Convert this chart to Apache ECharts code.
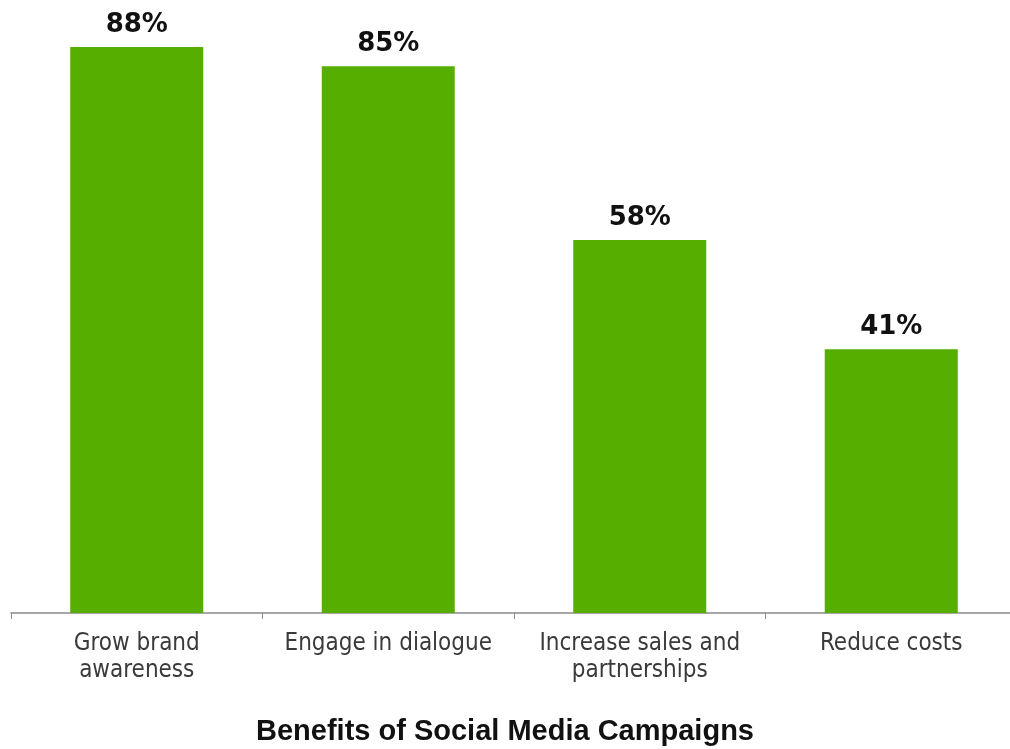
<!DOCTYPE html>
<html>
<head>
<meta charset="utf-8">
<script src="https://cdn.jsdelivr.net/npm/echarts@6/dist/echarts.min.js"></script>
<style>
  html, body { margin: 0; padding: 0; background: #fff; }
  #chart { width: 1010px; height: 749px; }
</style>
</head>
<body>
<div id="chart"></div>
<script>
// Share of marketers citing each benefit of social media campaigns
const categories = ['Grow brand\nawareness', 'Engage in dialogue', 'Increase sales and\npartnerships', 'Reduce costs'];
const percentages = [88, 85, 58, 41];
const chartTitle = 'Benefits of Social Media Campaigns';

const chart = echarts.init(document.getElementById('chart'));
chart.setOption({
  animation: false,
  backgroundColor: '#ffffff',
  title: {
    text: chartTitle,
    left: 'center',
    top: 712,
    textStyle: { fontFamily: "'Liberation Sans', Arial, sans-serif", fontWeight: 'bold', fontSize: 29, color: '#111' }
  },
  grid: { left: 11, width: 1006, top: 47, height: 566, outerBoundsMode: 'none', containLabel: false },
  xAxis: {
    type: 'category',
    data: categories,
    axisLine: { lineStyle: { color: '#8a8a8a', width: 1.5 } },
    axisTick: { show: true, interval: 0, length: 6, lineStyle: { color: '#8a8a8a' } },
    axisLabel: {
      interval: 0,
      hideOverlap: false,
      fontFamily: "'DejaVu Sans Condensed', 'DejaVu Sans', sans-serif",
      fontSize: 24,
      color: '#3a3a3a',
      lineHeight: 27,
      margin: 17
    }
  },
  yAxis: {
    type: 'value',
    min: 0,
    max: 88,
    show: false
  },
  series: [{
    type: 'bar',
    data: percentages,
    barWidth: 133,
    itemStyle: { color: '#55ae00' },
    label: {
      show: true,
      position: 'top',
      distance: 9,
      formatter: '{c}%',
      fontFamily: "'DejaVu Sans', Verdana, sans-serif",
      fontWeight: 'bold',
      fontSize: 26,
      color: '#111'
    }
  }]
});
</script>
</body>
</html>
